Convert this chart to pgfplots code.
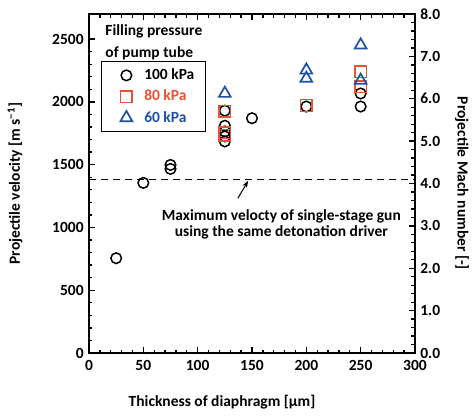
\documentclass[border=0pt]{standalone}
\usepackage{fontspec}
\setmainfont{Carlito}
\usepackage{pgfplots}
\pgfplotsset{compat=1.18}
\usetikzlibrary{arrows.meta}
\definecolor{cred}{RGB}{234,82,52}
\definecolor{cblue}{RGB}{32,80,165}
\newcommand{\ff}{\fontsize{15.5}{18}\selectfont\bfseries}
\begin{document}
\ff
\begin{tikzpicture}
\pgfplotsset{
  common/.style={
    scale only axis, width=326pt, height=339pt,
    xmin=0, xmax=300,
    tick align=inside, major tick length=6pt, minor tick length=3.5pt,
    axis line style={line width=1.6pt},
    every tick/.style={line width=1.3pt, black},
    /pgf/number format/assume math mode=true,
    ticklabel style={font=\ff},
    label style={font=\ff},
  },
  lgd/.style={legend image code/.code={\path (0pt,0pt) (30pt,0pt); \draw[##1] plot coordinates {(15pt,0pt)};}},
}
\begin{axis}[common,
  ymin=0, ymax=2700,
  xtick={0,50,...,300}, ytick={0,500,...,2500},
  minor x tick num=4, minor y tick num=4,
  ytick pos=left,
  y tick label style={/pgf/number format/1000 sep={}},
  xticklabel style={yshift=-2pt},
  xlabel={Thickness of diaphragm [μm]},
  ylabel={Projectile velocity [m s\textsuperscript{−1}]},
  xlabel style={at={(axis description cs:0.408,-0.1445)}, anchor=center},
  ylabel style={at={(axis description cs:-0.227,0.5)}, anchor=center},
  legend style={at={(axis description cs:0.037,0.862)}, anchor=north west,
    draw=black, fill=white, line width=1pt, font=\ff, row sep=4pt,
    inner xsep=9pt, inner ysep=5.5pt},
  legend cell align=left,
]
\coordinate (O) at (rel axis cs:0,0);
\addplot[only marks, forget plot, mark=o, mark size=5.3pt, line width=1.5pt, black] coordinates {
 (25,755) (50,1355) (75,1498) (75,1466)
 (125,1930) (125,1810) (125,1765) (125,1725) (125,1685)
 (150,1870) (200,1963) (250,2067) (250,1963)
};
\addplot[only marks, forget plot, mark=square, mark size=5.8pt, line width=1.5pt, cred] coordinates {
 (125,1925) (125,1755) (125,1735) (200,1971) (250,2241) (250,2121)
};
\addplot[only marks, forget plot, mark=triangle, mark size=6.8pt, line width=1.7pt, cblue] coordinates {
 (125,2067) (200,2252) (200,2187) (250,2452) (250,2171)
};
\addlegendimage{lgd, mark=o, mark size=5.3pt, line width=1.5pt, black}
\addlegendentry{100 kPa}
\addlegendimage{lgd, mark=square, mark size=5.8pt, line width=1.5pt, cred}
\addlegendentry{\textcolor{cred}{80 kPa}}
\addlegendimage{lgd, mark=triangle, mark size=6.8pt, line width=1.7pt, cblue}
\addlegendentry{\textcolor{cblue}{60 kPa}}
\addplot[forget plot, black, line width=0.9pt, dash pattern=on 7pt off 5pt] coordinates {(0,1385) (300,1385)};
\draw[-{Stealth[length=7pt,width=5pt]}, line width=1pt] (axis cs:137,1232) -- (axis cs:146.5,1372);
\node[align=center, font=\fontsize{15.5}{16.5}\selectfont\bfseries] at (axis cs:177,1026) {Maximum velocty of single-stage gun\\using the same detonation driver};
\node[anchor=north west, align=left, font=\fontsize{15.5}{22}\selectfont\bfseries, inner sep=0pt] at (axis description cs:0.05,0.97) {Filling pressure\\of pump tube};
\end{axis}
\begin{axis}[common,
  ymin=0, ymax=8,
  axis x line=none, axis y line*=right,
  ytick={0,...,8}, minor y tick num=4,
  y tick label style={/pgf/number format/.cd, fixed, fixed zerofill, precision=1},
  ylabel={Projectile Mach number [-]},
  ylabel style={at={(axis description cs:1.144,0.5)}, anchor=center, rotate=180},
]
\addplot[draw=none] coordinates {(0,0)};
\end{axis}
\pgfresetboundingbox
\path (O) ++(-89pt,-63pt) rectangle ++(475pt,416pt);
\end{tikzpicture}
\end{document}
